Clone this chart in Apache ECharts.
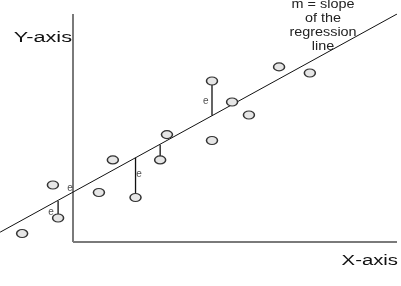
<!DOCTYPE html>
<html>
<head>
<meta charset="utf-8">
<title>Regression</title>
<script src="https://cdn.jsdelivr.net/npm/echarts@6/dist/echarts.min.js"></script>
<style>
  html, body { margin: 0; padding: 0; background: #fff; }
  #main { width: 401px; height: 286px; }
</style>
</head>
<body>
<div id="main"></div>
<script>
// observed points (x, y) in axis units
var points = [
  [-1.57, 0.37], [-0.62, 2.50], [-0.46, 1.05], [0.80, 2.17],
  [1.23, 3.60], [1.93, 1.95], [2.69, 3.60], [2.90, 4.71],
  [4.29, 7.06], [4.29, 4.45], [4.91, 6.14], [5.43, 5.57],
  [6.36, 7.68], [7.31, 7.41]
];
// regression line end points
var regLine = [[-2.25, 0.43], [10.0, 10.0]];
// residuals: x, y of point, y on line
var residuals = [
  [-0.46, 1.05, 1.80],
  [1.93, 1.95, 3.69],
  [2.69, 3.60, 4.27],
  [4.29, 7.06, 5.55]
];
// "e" labels
var eLabels = [[-0.68, 1.32], [-0.09, 2.37], [2.04, 2.98], [4.10, 6.18]];
// the two drawn axes (start at origin)
var xAxisLine = [[0, 0], [10, 0]];
var yAxisLine = [[0, 0], [0, 10]];

var FONT = '"Liberation Sans", Arial, sans-serif';

var series = [];
[xAxisLine, yAxisLine].forEach(function (d) {
  series.push({
    type: 'line',
    data: d,
    symbol: 'none',
    lineStyle: { color: '#7a7a7a', width: 2 },
    z: 1
  });
});
series.push({
  type: 'line',
  data: regLine,
  symbol: 'none',
  lineStyle: { color: '#111', width: 1 },
  z: 2
});
residuals.forEach(function (r) {
  series.push({
    type: 'line',
    data: [[r[0], r[1]], [r[0], r[2]]],
    symbol: 'none',
    lineStyle: { color: '#111', width: 1.3 },
    z: 2
  });
});
series.push({
  type: 'scatter',
  data: points,
  symbol: 'circle',
  symbolSize: [11, 8],
  itemStyle: { color: '#e6e6e6', borderColor: '#333', borderWidth: 1.3, opacity: 1 },
  z: 5
});
series.push({
  type: 'scatter',
  data: eLabels,
  symbolSize: 0,
  label: {
    show: true,
    position: 'inside',
    formatter: 'e',
    color: '#222',
    fontSize: 10,
    fontFamily: FONT
  },
  z: 6
});

var option = {
  backgroundColor: '#fff',
  animation: false,
  grid: { left: 0, right: 4, top: 14, bottom: 44 },
  xAxis: {
    type: 'value', min: -2.253, max: 10,
    axisLine: { show: false }, axisTick: { show: false },
    axisLabel: { show: false }, splitLine: { show: false }
  },
  yAxis: {
    type: 'value', min: 0, max: 10,
    axisLine: { show: false }, axisTick: { show: false },
    axisLabel: { show: false }, splitLine: { show: false }
  },
  graphic: [
    {
      type: 'text', x: 72, y: 38, scaleX: 1.55,
      style: { text: 'Y-axis', fill: '#111', font: '14px ' + FONT, textAlign: 'right', textVerticalAlign: 'middle' }
    },
    {
      type: 'text', x: 398, y: 261, scaleX: 1.45,
      style: { text: 'X-axis', fill: '#111', font: '14px ' + FONT, textAlign: 'right', textVerticalAlign: 'middle' }
    },
    {
      type: 'text', x: 323, y: -2, scaleX: 1.2,
      style: {
        text: 'm = slope\nof the\nregression\nline', fill: '#222', font: '12px ' + FONT,
        textAlign: 'center', textVerticalAlign: 'top', lineHeight: 14
      }
    }
  ],
  series: series
};

var myChart = echarts.init(document.getElementById('main'));
myChart.setOption(option);
</script>
</body>
</html>
